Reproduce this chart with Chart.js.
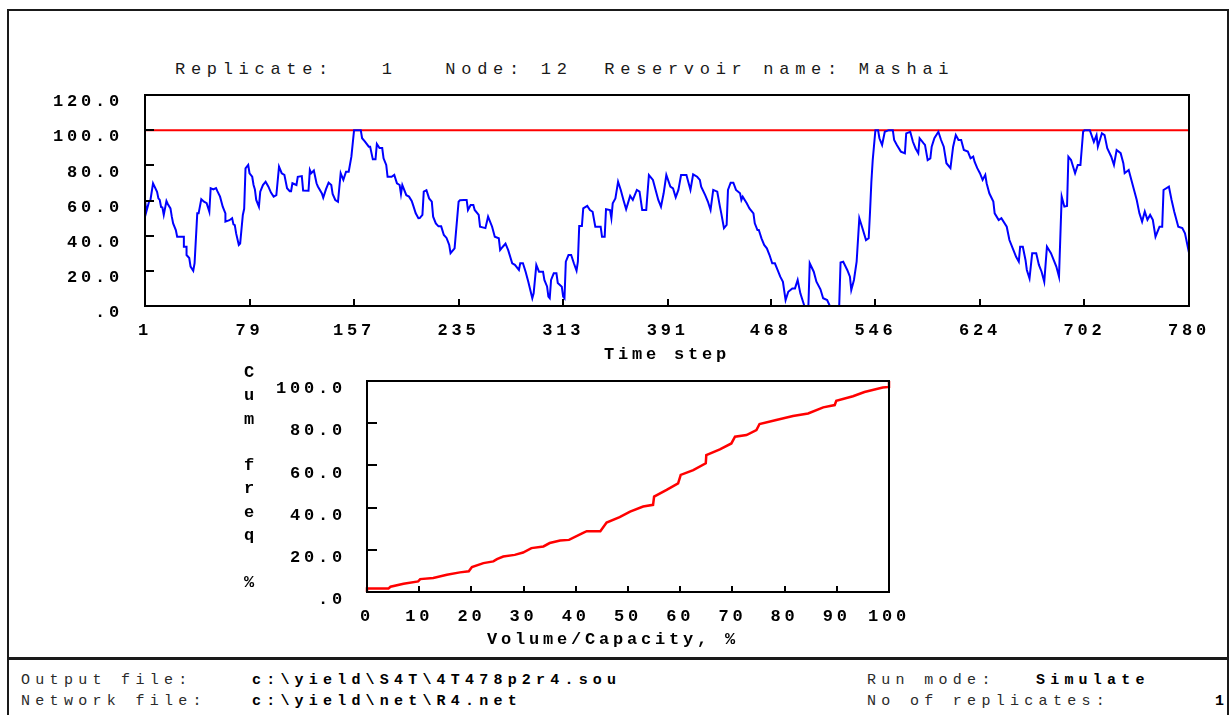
<!DOCTYPE html>
<html>
<head>
<meta charset="utf-8">
<script src="https://cdn.jsdelivr.net/npm/chart.js@4.4.1/dist/chart.umd.min.js"></script>
<style>
  html, body { margin: 0; padding: 0; background: #fff; }
  body { width: 1231px; height: 715px; position: relative; overflow: hidden;
         font-family: "Liberation Mono", "DejaVu Sans Mono", monospace; color: #111; }
  .frame { position: absolute; left: 7px; top: 9px; width: 1222px; height: 651px;
           box-sizing: border-box; border: 2px solid #1a1a1a; border-bottom-width: 3px; }
  .fside { position: absolute; top: 660px; width: 2px; height: 60px; background: #1a1a1a; }
  .txt { position: absolute; white-space: pre; line-height: 20px; }
  .title { font-size: 17px; letter-spacing: 5.7px; color: #1a1a1a; }
  .reg { font-size: 15px; letter-spacing: 5.3px; color: #2a2a2a; }
  .bld { font-size: 15px; font-weight: bold; letter-spacing: 5.2px; color: #000; }
  .axt { font-size: 17px; font-weight: bold; letter-spacing: 3.8px; color: #000; }
  canvas { position: absolute; left: 0; }
</style>
</head>
<body>
<div class="frame"></div>
<div class="fside" style="left:7px"></div>
<div class="fside" style="left:1227px"></div>

<div class="txt title" style="left:175px; top:60px;">Replicate:   1   Node: 12  Reservoir name: Mashai</div>

<canvas id="topChart" width="1231" height="277" style="top:88px"></canvas>
<canvas id="cdfChart" width="1231" height="278" style="top:372px"></canvas>

<div class="txt axt" style="left:234px; top:361px; width:30px; line-height:23.3px; text-align:center; letter-spacing:0;">C
u
m

f
r
e
q

%</div>
<div class="txt axt" style="left:487px; top:630px;">Volume/Capacity, %</div>

<div class="txt reg" style="left:21px; top:671px;">Output file:</div>
<div class="txt bld" style="left:252px; top:671px;">c:\yield\S4T\4T478p2r4.sou</div>
<div class="txt reg" style="left:867px; top:671px;">Run mode:</div>
<div class="txt bld" style="left:1036px; top:671px;">Simulate</div>
<div class="txt reg" style="left:21px; top:692px;">Network file:</div>
<div class="txt bld" style="left:252px; top:692px;">c:\yield\net\R4.net</div>
<div class="txt reg" style="left:867px; top:692px;">No of replicates:</div>
<div class="txt bld" style="left:1215px; top:692px;">1</div>

<script>
// ---------------- DATA ----------------
// Top chart: reservoir storage (% of capacity) per time step
const timeSteps = [1,2,4,5,7,10,11,12,13,14,15,17,18,20,21,22,24,25,30,30,32,32,34,35,37,38,40,41,43,45,47,49,50,52,54,55,57,59,61,61,64,66,67,68,69,71,72,74,75,76,78,79,81,82,83,84,86,87,89,91,93,95,97,99,101,103,105,107,109,110,111,114,115,118,119,123,124,125,127,129,130,133,134,136,138,140,141,143,145,147,149,151,153,155,157,160,162,163,165,168,169,171,173,174,176,178,179,181,182,185,187,189,191,192,193,196,198,200,201,203,205,
206,208,209,211,213,215,216,218,220,222,224,226,228,229,232,235,236,239,241,242,244,246,247,250,251,255,257,260,262,265,266,268,270,272,275,277,280,281,283,285,287,290,291,293,295,298,299,301,302,303,304,306,308,309,312,313,314,315,317,319,321,323,324,325,327,328,331,333,335,337,341,342,344,345,348,349,350,352,354,356,358,360,363,365,368,370,372,375,377,380,382,384,386,388,390,393,395,397,399,401,405,406,408,410,413,415,416,419,421,423,425,428,430,431,433,435,436,438,440,442,445,446,447,450,452,455,456,458,459,461,463,465,467,469,471,473,475,477,479,481,484,486,488,490,492,493,496,497,500,502,505,507,510,512,519,520,522,525,527,528,530,532,534,536,539,541,542,543,544,546,548,549,551,553,556,559,560,562,565,568,569,572,574,576,578,579,582,583,585,587,588,590,593,595,597,599,602,604,606,608,610,612,615,617,619,620,622,624,626,628,629,631,634,635,638,640,644,646,649,651,653,654,656,658,659,661,663,666,668,670,672,674,677,679,681,683,685,687,689,690,692,695,697,699,701,702,706,709,711,712,715,717,719,722,724,726,729,731,732,735,737,739,741,743,745,747,749,751,753,755,758,760,761,765,767,769,772,775,777,780];
const storagePct = [60.3,53.6,59.3,60,69.8,65,61.2,60.3,56.3,56,51.8,59.7,58,55.5,50.8,47,43.2,39.4,39.4,33.7,33.7,29,27.3,22.4,20,24.4,52.7,52.7,60.7,59.3,58.5,53.6,67,66.3,67,65.3,62.2,56.5,52.7,48,48.8,49.9,46.4,46,41.3,34.7,35.5,51.8,55.3,78.3,80.2,75.5,73.5,68.8,66.3,60.3,56.5,65,68.8,70.7,68,64.5,62.2,63,79.2,75.5,74.6,67,65.3,65.3,69.8,68.8,73.5,73.9,65.6,65.5,77.3,75.5,77,69.8,68,64,61.6,66.3,70.1,68.8,63.7,60.3,59.3,75.5,71.7,76.4,76.4,84.9,100,100,100,95.4,93.6,90.6,90.6,83.4,83.4,92.1,89.8,89.8,84,80.2,73.5,73.5,74.6,69.8,68.8,63.7,68.8,63,62.2,59.7,57.5,52.7,49.9,
50,51.8,65,65.8,61.2,59.4,50.8,47,45.3,45.3,40.4,38.7,34.7,30,32.8,59.3,60.2,60.3,60.3,54.6,57.4,57.4,54.6,51.8,45.1,44.3,50.8,45.1,39.4,38.5,31.8,33.7,35.5,31.8,24.3,23.4,20.5,24.3,24.3,19.5,13.8,4.4,7.2,23.3,19.5,19.5,14.8,11.1,5.3,4.4,14.8,18.6,18.6,13.1,11,5.3,4.4,25.2,29,29,24.3,20.1,25.2,45.5,45.5,55.5,56.9,54.6,53.6,45.1,45.1,39.4,39.4,55,54.6,50,58.4,61.2,70.7,66,60.3,55,62.6,60.3,66,65,54.6,54.6,74.5,71.7,66,60.3,56.5,64.1,74.5,67.9,66.9,61.8,66,74.5,74.5,71.7,66,74.9,73.5,71.7,67.9,63.1,59.4,54.6,66,65,56.5,52.7,44.2,46.1,66,70.1,70.1,66,64.1,60.3,62.2,58.4,55.5,52.7,47,43.2,43.2,38.5,34.7,32.8,29,24.3,24.3,20.5,16.7,13.8,3.4,8.1,10,10,14.8,7.2,2.4,0,0,24.3,19.5,13.8,9.5,4.4,3.4,0,0,24.7,25.2,20.5,16.7,9.1,14.8,25.2,49.9,45.1,37.5,38.5,53.6,70.7,83,100,100,95.4,91.6,99.1,100,100,94.4,91.6,87.8,86.9,98.2,99.1,93.4,89.6,86.9,95.4,92.5,91.6,83,84,90.6,95.4,99.1,94.4,90.6,81.2,78.4,90.6,97.2,94.4,94.4,88.7,87.8,84,85,82.1,78.4,75.5,71.7,74.6,69.8,64.1,59.4,52.7,48.9,49.9,45.1,37.5,31.8,28,25.2,33.7,33.7,26.2,20.5,15.7,30,30,23.4,19.5,13.8,33.7,30,26.2,22.4,16.7,62.2,56.5,56.9,84.9,83,75.5,80.2,80.2,99.1,100,100,93.4,97.2,90.6,98.2,97.2,89.7,84.9,80.2,88.7,86.9,81.2,75.5,77.3,71.7,66,60.3,52.7,48,53.7,49,51.8,49,39.4,45.1,45.1,66,67.9,60.3,53.6,45.1,44.3,41.3,30.3];
const capacityLevel = 100;
const topXTicks = [1, 79, 157, 235, 313, 391, 468, 546, 624, 702, 780];
const topYTicks = [0, 20, 40, 60, 80, 100, 120];
const topYLabels = ['.0', '20.0', '40.0', '60.0', '80.0', '100.0', '120.0'];

// Bottom chart: cumulative frequency of volume/capacity
const volumePct = [0,0,4.1,4.5,7,9.8,10.2,12.7,15.3,17.8,19.5,20.1,22.3,24.2,24.9,26.1,28.3,29.9,31.5,33.8,35,37,38.7,41.3,42.1,44.7,45.9,48.4,50.4,52.9,54.8,55,57.4,59.6,60.1,62.5,64.9,65,67.6,69.8,70.5,72.7,74.6,75.2,78.4,81.6,84.5,87.4,89.6,89.9,93.1,95.3,98.8,100,100];
const cumFreqPct = [0,1.6,1.6,2.5,3.9,5,6.1,6.6,8.2,9.3,9.8,11.8,13.7,14.5,15.6,16.8,17.6,18.7,20.8,21.6,23.2,24.4,24.7,27.9,28.8,28.8,32.9,35.5,38.1,40.5,41.3,45.2,48.4,51.5,55.5,57.8,61,64.9,67.6,70.4,73.6,74.4,76.7,79.6,81.5,83.4,84.6,87.5,88.6,90.6,92.8,94.8,96.9,97.2,100];
const cdfXTicks = [0, 10, 20, 30, 40, 50, 60, 70, 80, 90, 100];
const cdfYTicks = [0, 20, 40, 60, 80, 100];
const cdfYLabels = ['.0', '20.0', '40.0', '60.0', '80.0', '100.0'];

// ---------------- PLUGINS ----------------
const spacingPlugin = {
  id: 'spacing',
  beforeUpdate(chart, a, o) { chart.ctx.letterSpacing = o.value; },
  beforeDraw(chart, a, o) { chart.ctx.letterSpacing = o.value; }
};
const boxPlugin = {
  id: 'box',
  afterDraw(chart, a, o) {
    const ctx = chart.ctx, ca = chart.chartArea, xs = chart.scales.x, ys = chart.scales.y;
    ctx.save();
    ctx.letterSpacing = '0px';
    ctx.strokeStyle = '#000';
    ctx.lineWidth = 2;
    ctx.strokeRect(ca.left, ca.top, ca.right - ca.left, ca.bottom - ca.top);
    ctx.beginPath();
    ys.ticks.forEach(t => {
      if (t.value > ys.min && t.value < ys.max) {
        const p = Math.round(ys.getPixelForValue(t.value));
        ctx.moveTo(ca.left, p); ctx.lineTo(ca.left + o.yLen, p);
      }
    });
    xs.ticks.forEach(t => {
      if (t.value > xs.min && t.value < xs.max) {
        const p = Math.round(xs.getPixelForValue(t.value));
        ctx.moveTo(p, ca.bottom); ctx.lineTo(p, ca.bottom - o.xLen);
      }
    });
    ctx.stroke();
    ctx.restore();
  }
};

Chart.defaults.font.family = '"Liberation Mono", "DejaVu Sans Mono", monospace';
Chart.defaults.color = '#000';
const tickFont = { size: 17, weight: 'bold' };

function fixX(h) {
  return s => { s.height = h; s.paddingLeft = 0; s.paddingRight = 0; };
}
function fixY(w) {
  return s => { s.width = w; s.paddingTop = 0; s.paddingBottom = 0; };
}

// ---------------- TOP CHART ----------------
new Chart(document.getElementById('topChart'), {
  type: 'line',
  data: {
    datasets: [
      {
        data: timeSteps.map((s, i) => ({ x: s, y: storagePct[i] })),
        borderColor: '#0000ff', borderWidth: 2, pointRadius: 0, tension: 0, clip: false
      },
      {
        data: [{ x: timeSteps[0], y: capacityLevel }, { x: timeSteps[timeSteps.length - 1], y: capacityLevel }],
        borderColor: '#ff0000', borderWidth: 2, pointRadius: 0, tension: 0, clip: false
      }
    ]
  },
  options: {
    responsive: false, animation: false, devicePixelRatio: 1,
    layout: { padding: { left: 0, right: 42, top: 7, bottom: 0 } },
    plugins: { legend: { display: false }, tooltip: { enabled: false },
               spacing: { value: '3.8px' }, box: { yLen: 9, xLen: 7 } },
    scales: {
      x: {
        type: 'linear', min: 1, max: 780,
        afterBuildTicks: s => { s.ticks = topXTicks.map(v => ({ value: v })); },
        afterFit: fixX(59),
        grid: { display: false, drawTicks: false }, border: { display: false },
        ticks: { autoSkip: false, maxRotation: 0, minRotation: 0, padding: 15, font: tickFont, color: '#000',
                 callback: v => String(v) },
        title: { display: true, text: 'Time step', font: { size: 17, weight: 'bold' }, color: '#000', padding: 0 }
      },
      y: {
        type: 'linear', min: 0, max: 120,
        afterBuildTicks: s => { s.ticks = topYTicks.map(v => ({ value: v })); },
        afterFit: fixY(145),
        grid: { display: false, drawTicks: false }, border: { display: false },
        ticks: { padding: 22, labelOffset: 7, font: tickFont, color: '#000',
                 callback: (v, i) => topYLabels[i] }
      }
    }
  },
  plugins: [spacingPlugin, boxPlugin]
});

// ---------------- BOTTOM CHART ----------------
new Chart(document.getElementById('cdfChart'), {
  type: 'line',
  data: {
    datasets: [{
      data: volumePct.map((v, i) => ({ x: v, y: cumFreqPct[i] })),
      borderColor: '#ff0000', borderWidth: 2.5, pointRadius: 0, tension: 0, clip: false
    }]
  },
  options: {
    responsive: false, animation: false, devicePixelRatio: 1,
    layout: { padding: { left: 0, right: 342, top: 9, bottom: 0 } },
    plugins: { legend: { display: false }, tooltip: { enabled: false },
               spacing: { value: '3.8px' }, box: { yLen: 10, xLen: 6 } },
    scales: {
      x: {
        type: 'linear', min: 0, max: 100,
        afterBuildTicks: s => { s.ticks = cdfXTicks.map(v => ({ value: v })); },
        afterFit: fixX(58),
        grid: { display: false, drawTicks: false }, border: { display: false },
        ticks: { autoSkip: false, maxRotation: 0, minRotation: 0, padding: 15, font: tickFont, color: '#000',
                 callback: v => String(v) }
      },
      y: {
        type: 'linear', min: 0, max: 100,
        afterBuildTicks: s => { s.ticks = cdfYTicks.map(v => ({ value: v })); },
        afterFit: fixY(367),
        grid: { display: false, drawTicks: false }, border: { display: false },
        ticks: { padding: 21, labelOffset: 8, font: tickFont, color: '#000',
                 callback: (v, i) => cdfYLabels[i] }
      }
    }
  },
  plugins: [spacingPlugin, boxPlugin]
});
</script>
</body>
</html>
